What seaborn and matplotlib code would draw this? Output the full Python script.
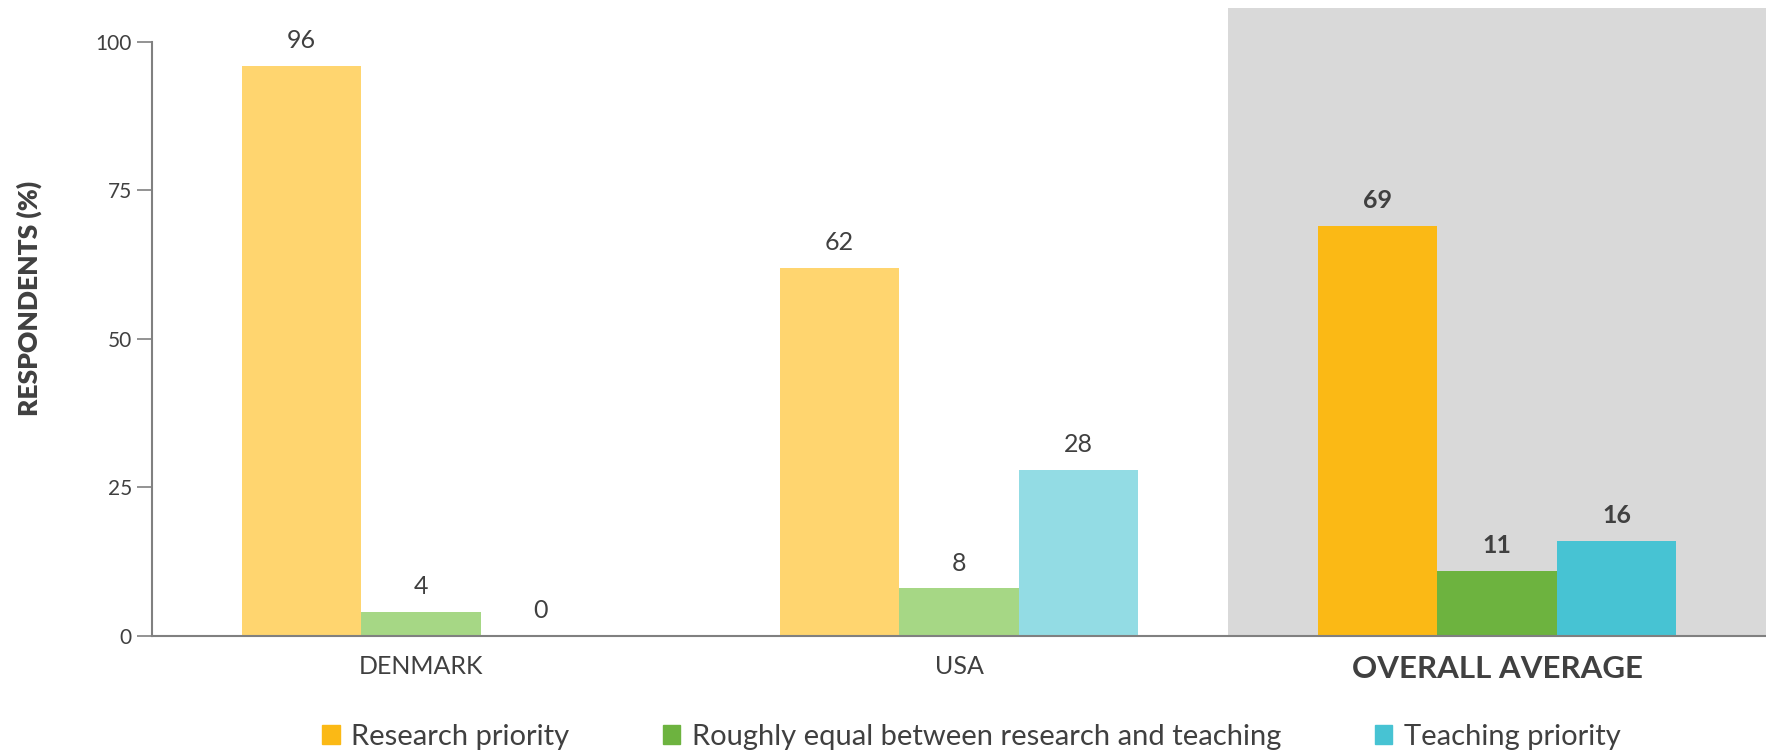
import numpy as np
import pandas as pd
import matplotlib
matplotlib.use("Agg")
import matplotlib.pyplot as plt
import matplotlib.patches as mpatches
import seaborn as sns

# data
categories = ["DENMARK", "USA", "OVERALL AVERAGE"]
series = ["Research priority", "Roughly equal between research and teaching", "Teaching priority"]
research = [96, 62, 69]
equal = [4, 8, 11]
teaching = [0, 28, 16]

light_colors = ["#FFD56F", "#A6D785", "#93DCE4"]
strong_colors = ["#FBB915", "#6DB33F", "#47C3D3"]
TXT = "#404040"

sns.set_theme(style="white")
plt.rcParams["font.family"] = ["Lato", "DejaVu Sans"]

df = pd.DataFrame({
    "category": categories * 3,
    "series": [series[0]] * 3 + [series[1]] * 3 + [series[2]] * 3,
    "value": research + equal + teaching,
})

fig = plt.figure(figsize=(17.66, 7.55), dpi=100)
ax = fig.add_axes([0.0861, 0.1576, 0.9139, 0.8318])

# grey highlight behind the overall average
ax.axvspan(1.5, 2.5, color="#D9D9D9", zorder=0, lw=0)

sns.barplot(data=df, x="category", y="value", hue="series", order=categories,
            hue_order=series, width=0.667, ax=ax, legend=False, zorder=2,
            linewidth=0, saturation=1)

for s_i, cont in enumerate(ax.containers):
    for c_i, bar in enumerate(cont):
        bar.set_facecolor(strong_colors[s_i] if c_i == 2 else light_colors[s_i])
        bar.set_edgecolor("none")
    labels = [f"{v:.0f}" for v in cont.datavalues]
    txts = ax.bar_label(cont, labels=labels, padding=10, fontsize=18, color=TXT)
    txts[2].set_fontweight("bold")

ax.set_xlim(-0.5, 2.5)
ax.set_ylim(0, 105.7)
ax.set_yticks([0, 25, 50, 75, 100])
ax.tick_params(axis="y", direction="out", length=10.5, width=1.2, color="#808080",
               labelsize=15, labelcolor=TXT, pad=4, left=True)
ax.tick_params(axis="x", length=0, labelsize=18, labelcolor=TXT, pad=14)
for lab in ax.get_xticklabels():
    if lab.get_text() == "OVERALL AVERAGE":
        lab.set_fontweight("bold")
        lab.set_fontsize(22.5)

for side in ["top", "right"]:
    ax.spines[side].set_visible(False)
ax.spines["left"].set_bounds(0, 100)
ax.spines["left"].set_color("#808080")
ax.spines["left"].set_linewidth(1.5)
ax.spines["bottom"].set_color("#808080")
ax.spines["bottom"].set_linewidth(1.5)
ax.spines["bottom"].set_zorder(3)

ax.set_xlabel("")
ax.set_ylabel("RESPONDENTS (%)", fontsize=19, fontweight="heavy", color=TXT)
ax.yaxis.set_label_coords(-0.068, 0.538)

handles = [mpatches.Patch(color=c, label=s) for c, s in zip(strong_colors, series)]
fig.legend(handles=handles, loc="center", bbox_to_anchor=(0.55, 0.024), ncol=3,
           frameon=False, fontsize=21, labelcolor=TXT, handlelength=0.6, handleheight=0.6,
           handletextpad=0.4, columnspacing=3.2, borderpad=0)

fig.savefig("out.png", dpi=100, facecolor="white")
